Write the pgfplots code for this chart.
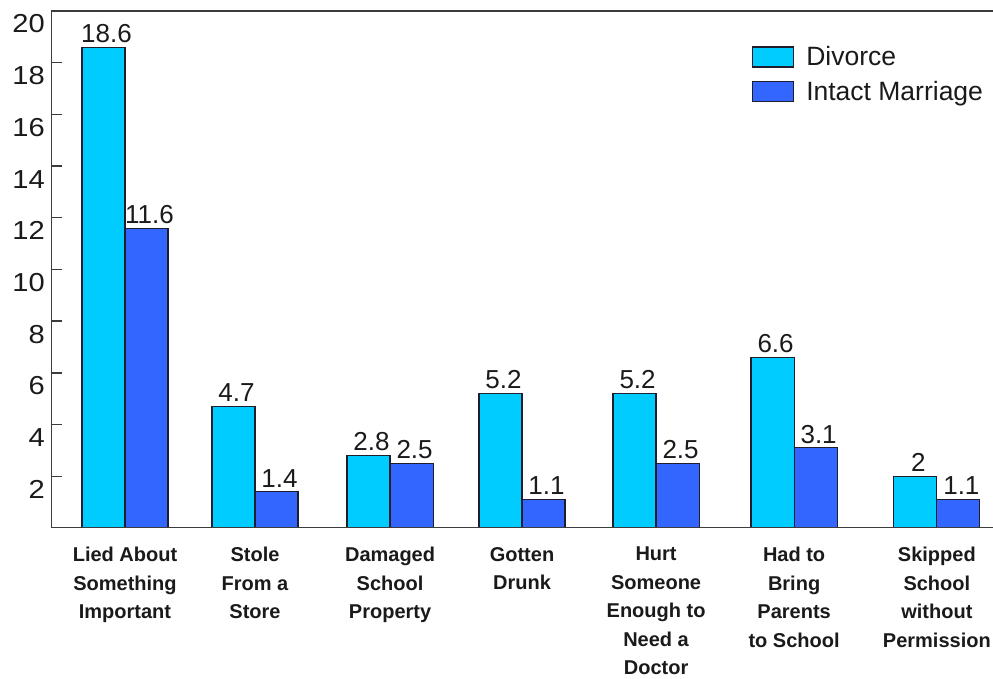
\documentclass[border=0pt]{standalone}
\usepackage{pgfplots}
\pgfplotsset{compat=1.18}
\usepackage{pgfplotstable}
\usepackage{fontspec}
\setmainfont{Liberation Sans}

\definecolor{divorce}{HTML}{00CCFF}
\definecolor{intact}{HTML}{3366FF}
\definecolor{edge}{HTML}{1E1E2E}
\definecolor{axisgray}{HTML}{3C3C3C}
\definecolor{txt}{HTML}{1A1A1A}

% percent of children reporting each behaviour, by family structure
\pgfplotstableread{
pos    divorce intact
0      18.6    11.6
0.961  4.7     1.4
1.959  2.8     2.5
2.934  5.2     1.1
3.925  5.2     2.5
4.945  6.6     3.1
6.0    2.0     1.1
}\behaviors

\begin{document}
\begin{tikzpicture}
\useasboundingbox (0,0) rectangle (993bp,679bp);
\begin{axis}[
  at={(51bp,151bp)}, anchor=south west,
  scale only axis, width=942bp, height=517bp,
  xmin=-0.547, xmax=6.415, ymin=0, ymax=20,
  ybar=0pt, bar width=0.318,
  /pgf/number format/assume math mode=true,
  axis line style={draw=none},
  ytick={2,4,...,20}, ytick pos=left, tick align=inside,
  major tick length=11bp,
  ytick style={axisgray, line width=1.4bp},
  yticklabel style={font=\fontsize{26bp}{30bp}\selectfont, text=txt,
    inner sep=0pt, xshift=-6bp, yshift=-13bp, xscale=1.12},
  xtick=data,
  xticklabels={{Lied About\\Something\\Important},
               {Stole\\From a\\Store},
               {Damaged\\School\\Property},
               {Gotten\\Drunk},
               {Hurt\\Someone\\Enough to\\Need a\\Doctor},
               {Had to\\Bring\\Parents\\to School},
               {Skipped\\School\\without\\Permission}},
  major x tick style={draw=none},
  xticklabel style={align=center, text=txt,
    font=\bfseries\fontsize{20bp}{28.5bp}\selectfont,
    inner sep=0pt, yshift=-19bp},
  nodes near coords,
  every node near coord/.append style={font=\fontsize{26bp}{30bp}\selectfont,
    text=txt, inner sep=0pt, yshift=4bp, xshift=3bp},
  legend image code/.code={\draw[#1, line width=1.2bp] (0bp,-8bp) rectangle (41bp,12bp);},
  legend style={at={(0.744,0.932)}, anchor=north west, draw=none, fill=none,
    inner sep=0pt, font=\fontsize{26.5bp}{30bp}\selectfont, text=txt,
    row sep=10bp, cells={anchor=west},
    nodes={inner sep=0pt, text height=19bp, text depth=5bp},
    /tikz/every odd column/.append style={column sep=12bp}},
]
\addplot[fill=divorce, draw=edge, line width=1.2bp] table[x=pos, y=divorce] {\behaviors};
\addplot[fill=intact, draw=edge, line width=1.2bp] table[x=pos, y=intact] {\behaviors};
\legend{Divorce, Intact Marriage}
\draw[axisgray, line width=1.6bp] (rel axis cs:0,1) -- (rel axis cs:0,0) -- (rel axis cs:1,0);
\draw[axisgray, line width=1.6bp] (rel axis cs:0,1) -- (rel axis cs:1,1);
\end{axis}
\end{tikzpicture}
\end{document}
